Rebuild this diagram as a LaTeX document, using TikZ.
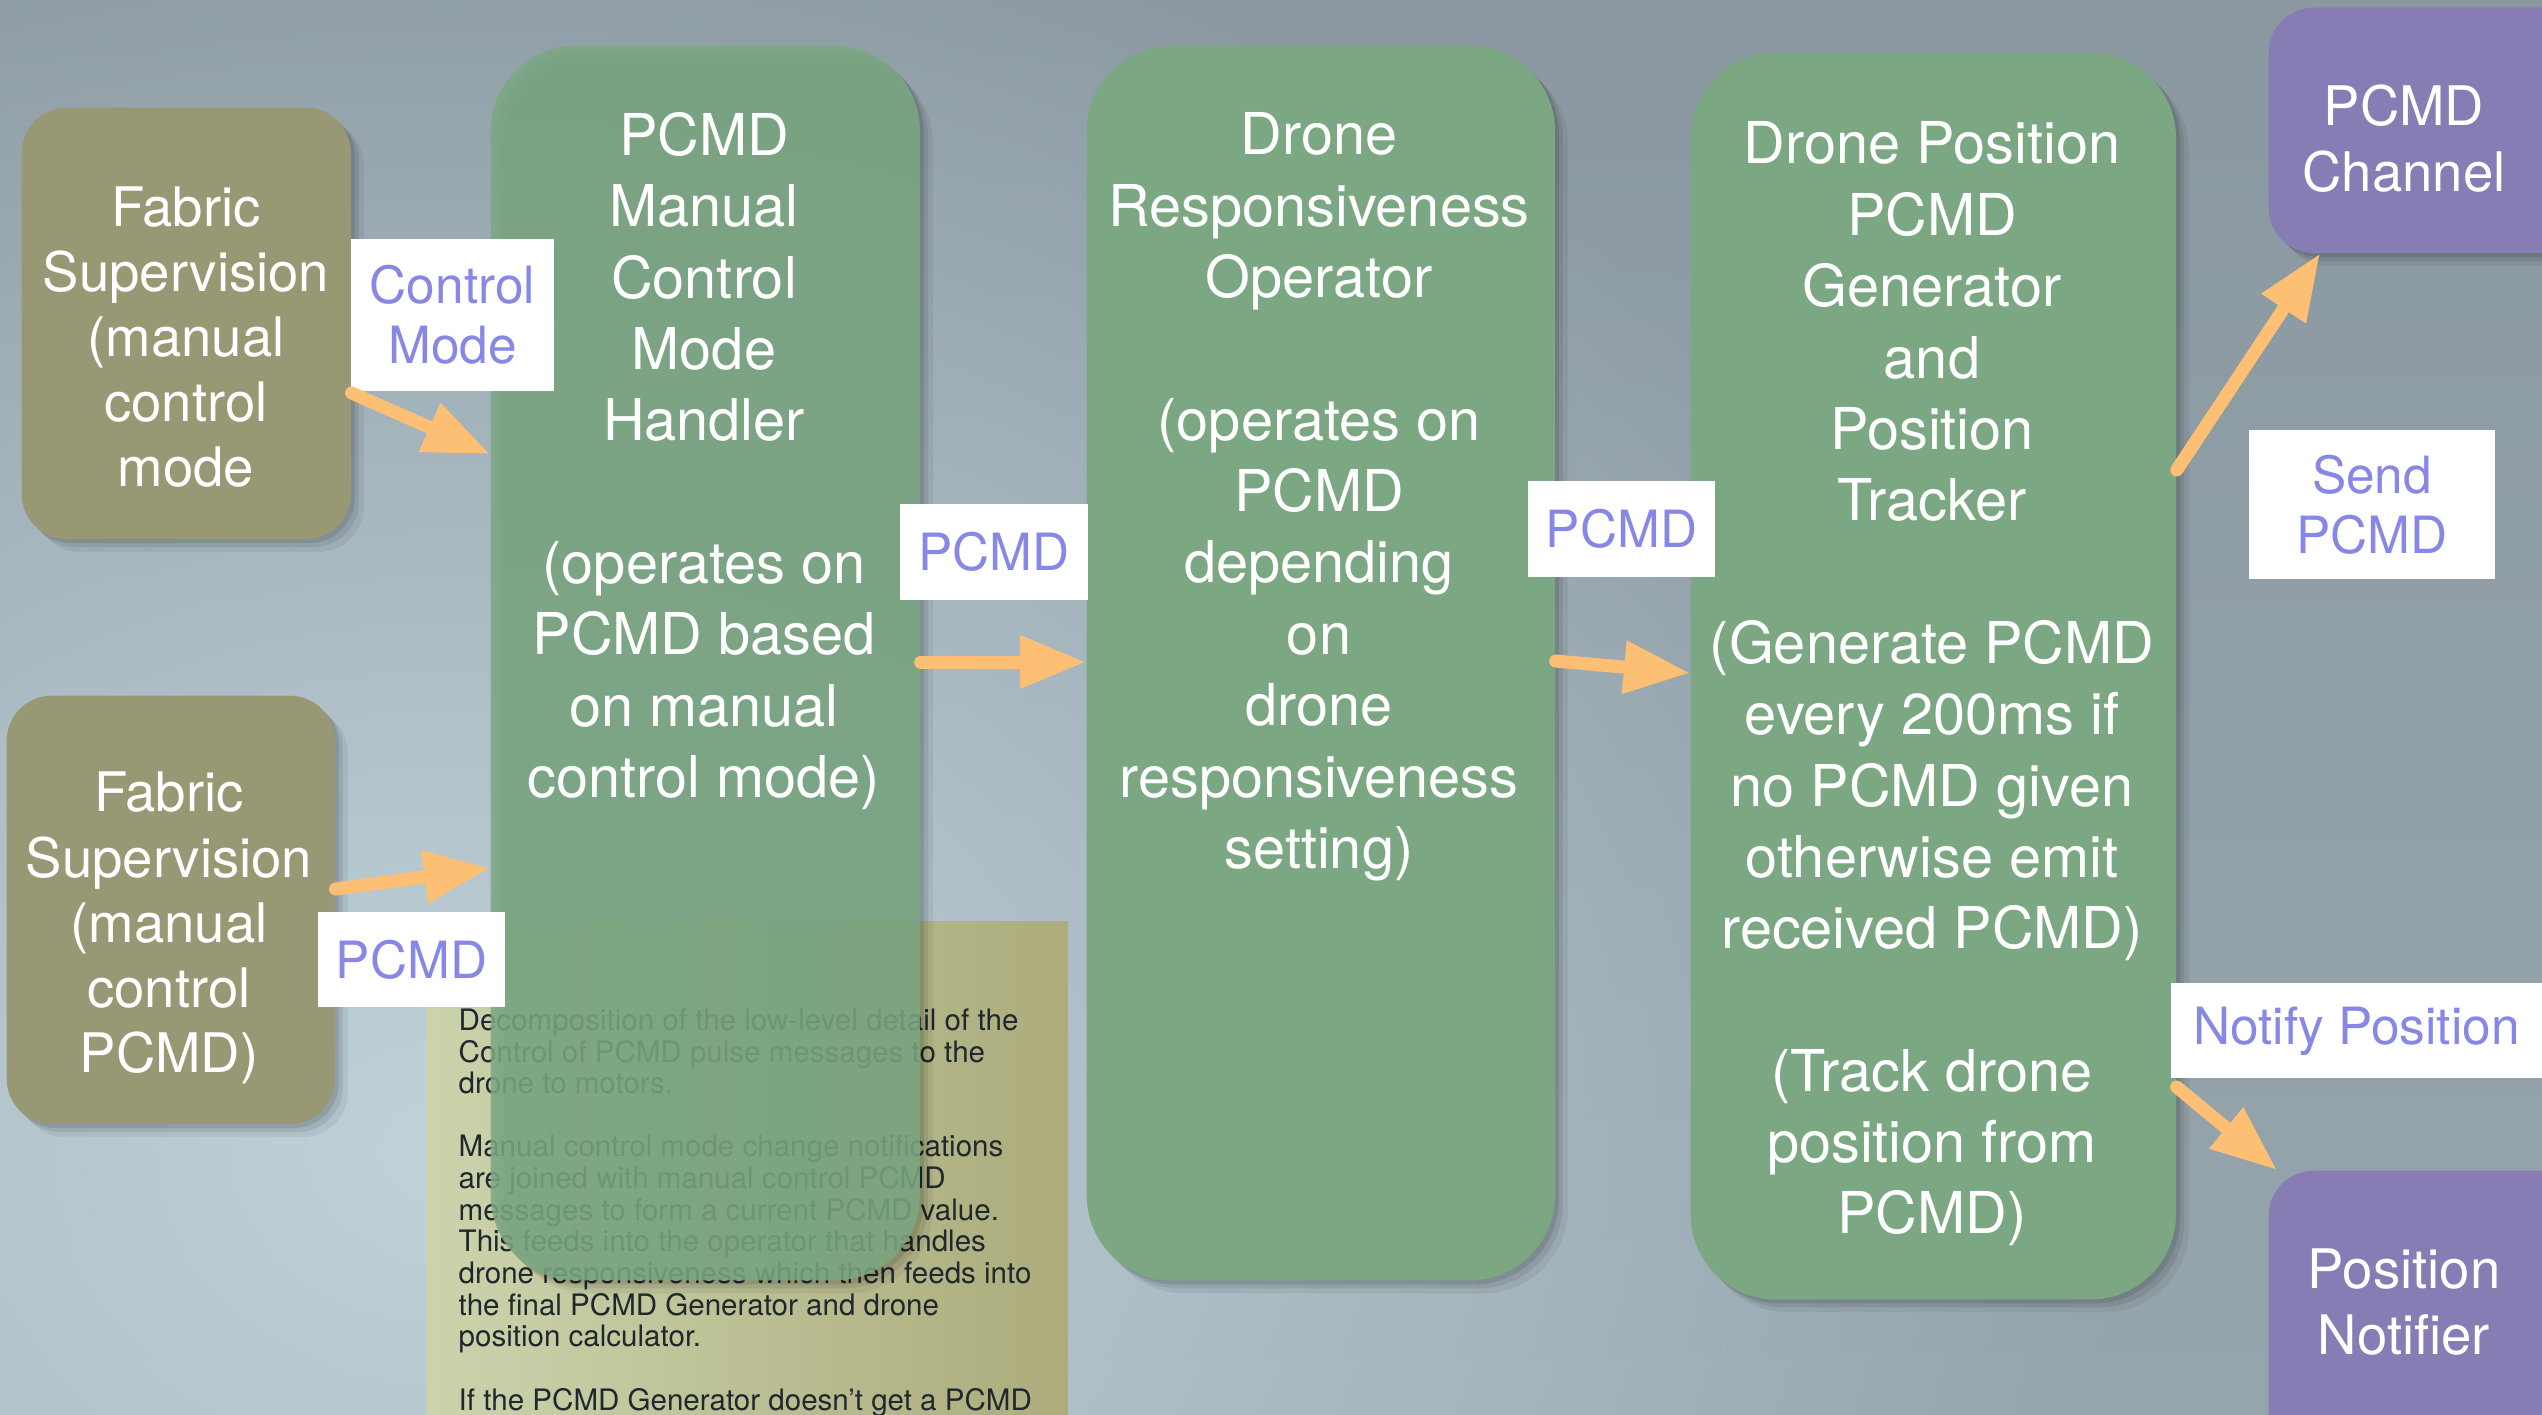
\documentclass[tikz,border=0pt]{standalone}
\usepackage{fontspec}
\setmainfont{TeX Gyre Heros}
\usetikzlibrary{arrows.meta,shadows,fadings}
\definecolor{bgtop}{RGB}{139,152,161}
\definecolor{bgbot}{RGB}{150,165,173}
\definecolor{bglight}{RGB}{192,210,218}
\definecolor{olivefill}{RGB}{153,152,117}
\definecolor{greenfill}{RGB}{123,168,131}
\definecolor{purplefill}{RGB}{136,124,180}
\definecolor{lbltext}{RGB}{135,135,230}
\definecolor{arrowc}{RGB}{253,191,115}
\definecolor{noteleft}{RGB}{204,211,172}
\definecolor{noteright}{RGB}{172,172,124}
\definecolor{notetextc}{RGB}{30,40,45}
\tikzfading[name=softdisc, inner color=transparent!0, outer color=transparent!100]
\begin{document}
\begin{tikzpicture}[x=0.01cm, y=-0.01cm,
  shadowed/.style={
    drop shadow={shadow xshift=0.04cm, shadow yshift=-0.04cm, opacity=0.10, fill=black},
    drop shadow={shadow xshift=0.08cm, shadow yshift=-0.08cm, opacity=0.08, fill=black},
    drop shadow={shadow xshift=0.13cm, shadow yshift=-0.13cm, opacity=0.06, fill=black}},
  olivebox/.style={shadowed, fill=olivefill, rounded corners=0.45cm, draw=none, inner sep=0},
  greenbox/.style={shadowed, fill=greenfill, rounded corners=0.85cm, draw=none, inner sep=0},
  purplebox/.style={shadowed, fill=purplefill, rounded corners=0.45cm, draw=none, inner sep=0},
  notebox/.style={left color=noteleft, right color=noteright, draw=none, inner sep=0},
  bigtext/.style={text=white, align=center, inner sep=0, font={\fontsize{16.4pt}{20.3pt}\selectfont}},
  lefttext/.style={text=white, align=center, inner sep=0, font={\fontsize{15.5pt}{18.5pt}\selectfont}},
  purpletext/.style={text=white, align=center, inner sep=0, font={\fontsize{15.5pt}{18.8pt}\selectfont}},
  notetext/.style={text=notetextc, align=left, inner sep=0, font={\fontsize{8.4pt}{9.0pt}\selectfont}},
  lbl/.style={fill=white, text=lbltext, align=center, inner sep=0, font={\fontsize{14.6pt}{17pt}\selectfont}},
  arr/.style={draw=arrowc, line width=0.13cm, line cap=round, -{Triangle[length=0.66cm, width=0.5cm]}}
]
\useasboundingbox (0,0) rectangle (2542,1414);
\clip (0,0) rectangle (2542,1414);
% background
\shade[top color=bgtop, bottom color=bgbot] (0,0) rectangle (2542,1414);
\fill[bglight, path fading=softdisc] (450,1150) ellipse [x radius=1700, y radius=1300];

% note box
\node[notebox, minimum width=6.41cm, minimum height=5.4cm, anchor=north west] (note) at (426,921) {};
\node[notetext, anchor=north west] (notet) at (458,1008) {Decomposition of the low-level detail of the\\
Control of PCMD pulse messages to the\\
drone to motors.\\[9pt]
Manual control mode change notifications\\
are joined with manual control PCMD\\
messages to form a current PCMD value.\\
This feeds into the operator that handles\\
drone responsiveness which then feeds into\\
the final PCMD Generator and drone\\
position calculator.\\[9pt]
If the PCMD Generator doesn’t get a PCMD};

% input boxes
\node[olivebox, minimum width=3.29cm, minimum height=4.31cm, anchor=north west] (fs1) at (21,107) {};
\node[olivebox, minimum width=3.28cm, minimum height=4.28cm, anchor=north west] (fs2) at (6,695) {};
\node[lefttext] (fs1t) at (186,337) {Fabric\\Supervision\\(manual\\control\\mode};
\node[lefttext] (fs2t) at (169,928) {Fabric\\Supervision\\(manual\\control\\PCMD)};

% green operator boxes
\node[greenbox, fill opacity=0.86, minimum width=4.29cm, minimum height=12.34cm, anchor=north west] (h1) at (490,45) {};
\node[greenbox, minimum width=4.68cm, minimum height=12.34cm, anchor=north west] (h2) at (1086,45) {};
\node[greenbox, minimum width=4.85cm, minimum height=12.46cm, anchor=north west] (h3) at (1690,52) {};
\node[bigtext] (h1t) at (704,461) {PCMD\\Manual\\Control\\Mode\\Handler\\[0.71cm](operates on\\PCMD based\\on manual\\control mode)};
\node[bigtext] (h2t) at (1319,497) {Drone\\Responsiveness\\Operator\\[0.71cm](operates on\\PCMD\\depending\\on\\drone\\responsiveness\\setting)};
\node[bigtext] (h3t) at (1932,684) {Drone Position\\PCMD\\Generator\\and\\Position\\Tracker\\[0.71cm](Generate PCMD\\every 200ms if\\no PCMD given\\otherwise emit\\received PCMD)\\[0.71cm](Track drone\\position from\\PCMD)};

% output boxes
\node[purplebox, minimum width=3.4cm, minimum height=2.45cm, anchor=north west] (ch) at (2268,7) {};
\node[purplebox, minimum width=3.4cm, minimum height=2.9cm, anchor=north west] (pn) at (2268,1170) {};
\node[purpletext] (cht) at (2404,139) {PCMD\\Channel};
\node[purpletext] (pnt) at (2404,1302) {Position\\Notifier};

% labels
\node[lbl, minimum width=2.03cm, minimum height=1.52cm] (lcm) at (452.5,315) {Control\\Mode};
\node[lbl, minimum width=1.88cm, minimum height=0.96cm] (lp1) at (994,552) {PCMD};
\node[lbl, minimum width=1.87cm, minimum height=0.96cm] (lp2) at (1621.5,529) {PCMD};
\node[lbl, minimum width=1.87cm, minimum height=0.95cm] (lp3) at (411.5,959.5) {PCMD};
\node[lbl, minimum width=2.46cm, minimum height=1.49cm] (lsp) at (2372,504.5) {Send\\PCMD};
\node[lbl, minimum width=3.71cm, minimum height=0.95cm, text depth=0.1cm] (lnp) at (2356.5,1030.5) {Notify Position};

% connectors
\draw[arr] (fs1.east |- 0,393) -- (h1.west |- 0,454);
\draw[arr] (fs2.east |- 0,889) -- (h1.west |- 0,868);
\draw[arr] (h1.east |- 0,662) -- (h2.west |- 0,662);
\draw[arr] (h2.east |- 0,661) -- (h3.west |- 0,673);
\draw[arr] (h3.east |- 0,470) -- (2320,0 |- ch.south);
\draw[arr] (h3.east |- 0,1087) -- (2277,0 |- pn.north);
\end{tikzpicture}
\end{document}
